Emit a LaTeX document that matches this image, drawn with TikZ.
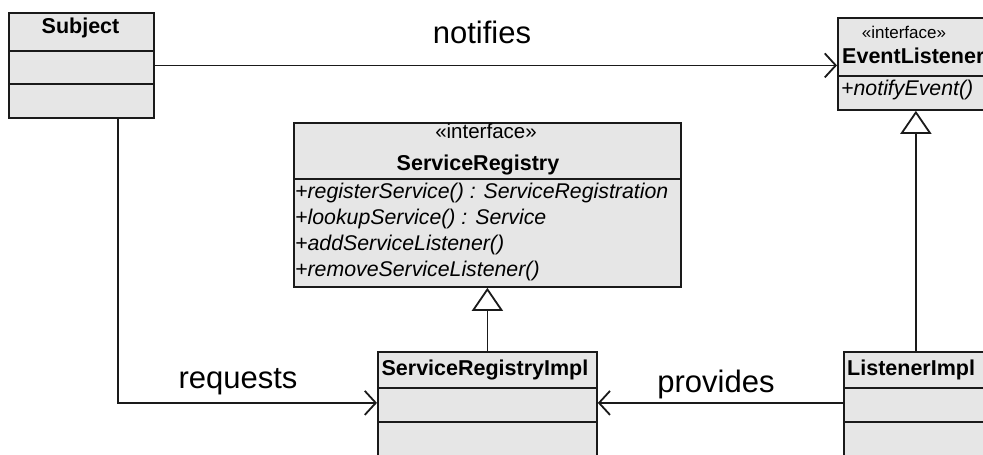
\documentclass[tikz,border=0pt]{standalone}
\usepackage{fontspec}
\setmainfont{Liberation Sans}
\usetikzlibrary{arrows.meta}
\definecolor{boxfill}{HTML}{E6E6E6}
\definecolor{ink}{HTML}{1A1A1A}
\begin{document}
\begin{tikzpicture}[x=1pt,y=-1pt,
  classbox/.style={draw=ink, fill=boxfill, line width=1.8pt, inner sep=0pt, anchor=north west},
  ttl/.style={font=\fontsize{21.5}{25}\selectfont\bfseries, inner sep=0pt, anchor=base},
  ster/.style={font=\fontsize{17}{20}\selectfont, inner sep=0pt, anchor=base},
  meth/.style={font=\fontsize{21.3}{25}\selectfont\itshape, inner sep=0pt, anchor=base west},
  lbl/.style={font=\fontsize{31}{36}\selectfont, inner sep=0pt, anchor=base},
  nav/.style={draw=ink, line width=1.8pt, -{Straight Barb[length=11pt,width=24pt]}},
  gen/.style={draw=ink, line width=1.8pt, -{Triangle[open,length=23pt,width=31pt,fill=white]}},
  divider/.style={draw=ink, line width=1.8pt}]
\clip (0,0) rectangle (983,455);
\fill[white] (0,0) rectangle (983,455);

% Subject
\node[classbox, minimum width=145pt, minimum height=105pt] (subject) at (8,12) {};
\draw[divider] (8,51) -- (153,51);
\draw[divider] (8,84) -- (153,84);
\node[ttl] (subjectT) at (80.5,34) {Subject};

% EventListener
\node[classbox, minimum width=156pt, minimum height=92pt] (evl) at (837,17) {};
\draw[divider] (837,76) -- (993,76);
\node[ster] (evlS) at (904,38) {«interface»};
\node[ttl, anchor=base west] (evlT) at (842,63) {EventListener};
\node[meth] (evlM) at (841,95) {+notifyEvent()};

% ServiceRegistry
\node[classbox, minimum width=387pt, minimum height=164pt] (sr) at (293,122) {};
\draw[divider] (293,179) -- (680,179);
\node[ster, font=\fontsize{20.5}{24}\selectfont] (srS) at (486,138) {«interface»};
\node[ttl] (srT) at (478,170) {ServiceRegistry};
\node[meth] (srM1) at (295,198) {+registerService() : ServiceRegistration};
\node[meth] (srM2) at (295,224) {+lookupService() : Service};
\node[meth] (srM3) at (295,250) {+addServiceListener()};
\node[meth] (srM4) at (295,276) {+removeServiceListener()};

% ServiceRegistryImpl
\node[classbox, minimum width=219pt, minimum height=109pt] (sri) at (377,351) {};
\draw[divider] (377,388) -- (596,388);
\draw[divider] (377,422) -- (596,422);
\node[ttl] (sriT) at (485,375) {ServiceRegistryImpl};

% ListenerImpl
\node[classbox, minimum width=150pt, minimum height=109pt] (li) at (843,351) {};
\draw[divider] (843,388) -- (993,388);
\draw[divider] (843,422) -- (993,422);
\node[ttl, anchor=base west] (liT) at (847,375) {ListenerImpl};

% connectors
\draw[nav] (subject.east) -- (subject.east -| evl.west);
\draw[nav] ([xshift=36.5pt]subject.south) |- ([yshift=3.5pt]sri.west);
\draw[nav] ([yshift=3.5pt]li.west) -- ([yshift=3.5pt]sri.east);
\draw[gen] (sri.north) -- (sr.south);
\draw[gen] (evl.south |- li.north) -- (evl.south);

% labels
\node[lbl] (lnotifies) at (482,43) {notifies};
\node[lbl] (lrequests) at (238,388) {requests};
\node[lbl] (lprovides) at (716,392) {provides};
\end{tikzpicture}
\end{document}
